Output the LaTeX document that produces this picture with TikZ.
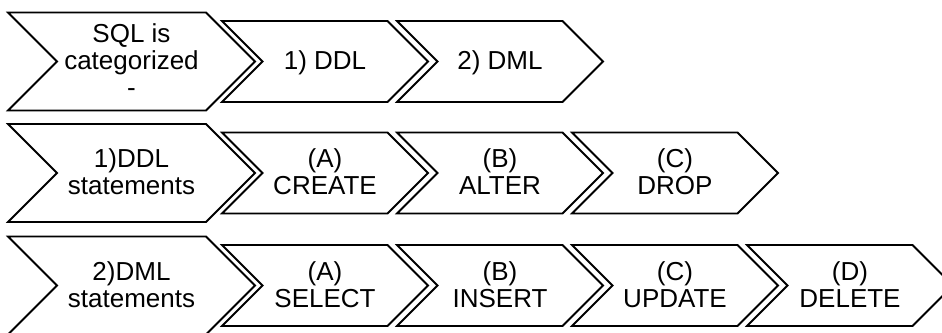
\documentclass[tikz,border=0pt]{standalone}
\usepackage{fontspec}
\setmainfont{Liberation Sans}
% #1 node name, #2 left x, #3 centre y, #4 width, #5 half height, #6 text
\newcommand\chevstep[6]{%
  \draw[chevron] (#2,#3-#5) -- (#2+#4-#5,#3-#5) -- (#2+#4,#3)
    -- (#2+#4-#5,#3+#5) -- (#2,#3+#5) -- (#2+#5,#3) -- cycle;
  \node[steptext] (#1) at (#2+#4/2,#3) {#6\strut};
}
\begin{document}
\begin{tikzpicture}[x=1pt,y=-1pt,
  chevron/.style={draw=black, fill=white, line width=1.8pt, line join=miter},
  steptext/.style={align=center, font=\fontsize{26}{27}\selectfont,
    inner sep=0pt, yshift=-3pt}]
\useasboundingbox (0,0) rectangle (942,332);
\clip (0,0) rectangle (942,332);

% first row: how SQL is categorized
\chevstep{sql}{8}{61.5}{247}{49}{SQL is\\categorized\\-}
\chevstep{ddl}{222}{61.5}{206}{40.5}{1) DDL}
\chevstep{dml}{397}{61.5}{206}{40.5}{2) DML}

% second row: DDL statements
\chevstep{ddlst}{8}{173}{247}{49}{1)DDL\\statements}
\chevstep{create}{222}{173}{206}{40.5}{(A)\\CREATE}
\chevstep{alter}{397}{173}{206}{40.5}{(B)\\ALTER}
\chevstep{drop}{572}{173}{206}{40.5}{(C)\\DROP}

% third row: DML statements
\chevstep{dmlst}{8}{285.5}{247}{49}{2)DML\\statements}
\chevstep{select}{222}{285.5}{206}{40.5}{(A)\\SELECT}
\chevstep{insert}{397}{285.5}{206}{40.5}{(B)\\INSERT}
\chevstep{update}{572}{285.5}{206}{40.5}{(C)\\UPDATE}
\chevstep{delete}{747}{285.5}{206}{40.5}{(D)\\DELETE}
\end{tikzpicture}
\end{document}
